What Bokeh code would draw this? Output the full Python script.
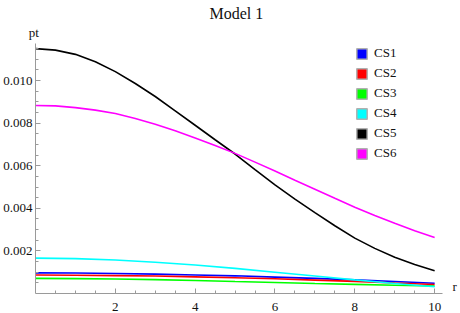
import numpy as np
from bokeh.plotting import figure
from bokeh.models import Range1d, FixedTicker, PrintfTickFormatter, Legend, LegendItem, Label, Title
from bokeh.embed import file_html
from bokeh.resources import INLINE

# ---- data ----
r_fine = [0, 0.5, 1, 1.5, 2, 2.5, 3, 3.5, 4, 4.5, 5, 5.5, 6, 6.5, 7, 7.5, 8, 8.5, 9, 9.5, 10]
r_coarse = [0, 1, 2, 3, 4, 5, 6, 7, 8, 9, 10]

cs1 = [0.00097, 0.00096, 0.00094, 0.00091, 0.00087, 0.00083, 0.00077, 0.00071, 0.00064, 0.00056, 0.00048]
cs2 = [0.00087, 0.00086, 0.00084, 0.00082, 0.00078, 0.00074, 0.00069, 0.00063, 0.00057, 0.00049, 0.00042]
cs3 = [0.00071, 0.00070, 0.00068, 0.00065, 0.00061, 0.00056, 0.00052, 0.00047, 0.00043, 0.00039, 0.00035]
cs4 = [0.00166, 0.00164, 0.00157, 0.00147, 0.00134, 0.00118, 0.00100, 0.00082, 0.00064, 0.00047, 0.00032]
cs5 = [0.01150, 0.01143, 0.01123, 0.01088, 0.01042, 0.00986, 0.00925, 0.00858, 0.00790, 0.00722,
       0.00655, 0.00582, 0.00510, 0.00443, 0.00380, 0.00318, 0.00260, 0.00212, 0.00170, 0.00136, 0.00107]
cs6 = [0.00883, 0.00881, 0.00873, 0.00861, 0.00845, 0.00822, 0.00795, 0.00764, 0.00730, 0.00695,
       0.00658, 0.00617, 0.00575, 0.00532, 0.00490, 0.00447, 0.00405, 0.00366, 0.00330, 0.00295, 0.00263]

names = ["CS1", "CS2", "CS3", "CS4", "CS5", "CS6"]
colors = ["#0000FF", "#FF0000", "#00FF00", "#00FFFF", "#000000", "#FF00FF"]
series = [(r_coarse, cs1), (r_coarse, cs2), (r_coarse, cs3), (r_coarse, cs4), (r_fine, cs5), (r_fine, cs6)]

title_text = "Model 1"
x_label, y_label = "r", "pt"
x_axis_end = 10.2
y_axis_end = 0.01174
x_major = [2, 4, 6, 8, 10]
x_minor = [v * 0.5 for v in range(1, 21)]
y_major = [0.002, 0.004, 0.006, 0.008, 0.010]
y_minor = [round(v * 0.0005, 4) for v in range(1, 24)]

FONT = "Liberation Serif"
AXIS_GRAY = "#9a9a9a"
TXT = "#111111"

p = figure(width=460, height=313, output_backend="svg", toolbar_location=None,
           x_range=Range1d(0, 10.648), y_range=Range1d(0, y_axis_end),
           min_border_left=33, min_border_right=0, min_border_top=0, min_border_bottom=20,
           title=title_text)
p.outline_line_color = None
p.xgrid.visible = False
p.ygrid.visible = False

p.title.align = "left"
p.title.offset = 174
p.title.text_font = FONT
p.title.text_font_size = "16px"
p.title.text_font_style = "normal"
p.title.text_color = TXT
p.title.standoff = 4

p.add_layout(Title(text=y_label, align="left", vertical_align="top", offset=-6.7, standoff=3,
                   text_font=FONT, text_font_size="13px", text_font_style="normal",
                   text_color=TXT), "above")

for ax, maj, mnr, bnd in ((p.xaxis[0], x_major, x_minor, (0, x_axis_end)),
                          (p.yaxis[0], y_major, y_minor, (0, y_axis_end))):
    ax.ticker = FixedTicker(ticks=maj, minor_ticks=mnr)
    ax.bounds = bnd
    ax.axis_line_color = AXIS_GRAY
    ax.major_tick_line_color = AXIS_GRAY
    ax.minor_tick_line_color = AXIS_GRAY
    ax.major_tick_in = 5
    ax.major_tick_out = 0
    ax.minor_tick_in = 3
    ax.minor_tick_out = 0
    ax.major_label_text_font = FONT
    ax.major_label_text_font_size = "13px"
    ax.major_label_text_color = TXT
p.yaxis[0].formatter = PrintfTickFormatter(format="%.3f")
p.yaxis[0].major_label_standoff = 3
p.xaxis[0].major_label_standoff = 9

for (xs, ys), c in zip(series, colors):
    p.line(xs, ys, line_color=c, line_width=1.6)

# legend swatches
items = []
for n, c in zip(names, colors):
    rr = p.quad(left=[np.nan], right=[np.nan], bottom=[np.nan], top=[np.nan],
                fill_color=c, line_color="#b0b0b0", line_width=1.5)
    items.append(LegendItem(label=n, renderers=[rr]))
leg = Legend(items=items, location=(320, 130), orientation="vertical",
             glyph_width=13, glyph_height=13, label_height=20, spacing=0,
             label_standoff=6, padding=0, margin=0,
             border_line_alpha=0, background_fill_alpha=0,
             label_text_font=FONT, label_text_font_size="13px", label_text_color=TXT)
p.add_layout(leg)

p.add_layout(Label(x=x_axis_end, y=0, text=x_label, x_offset=10, y_offset=0,
                   text_align="left", text_baseline="bottom",
                   text_font=FONT, text_font_size="13px", text_color=TXT))

open("out.html", "w").write(file_html(p, INLINE))
